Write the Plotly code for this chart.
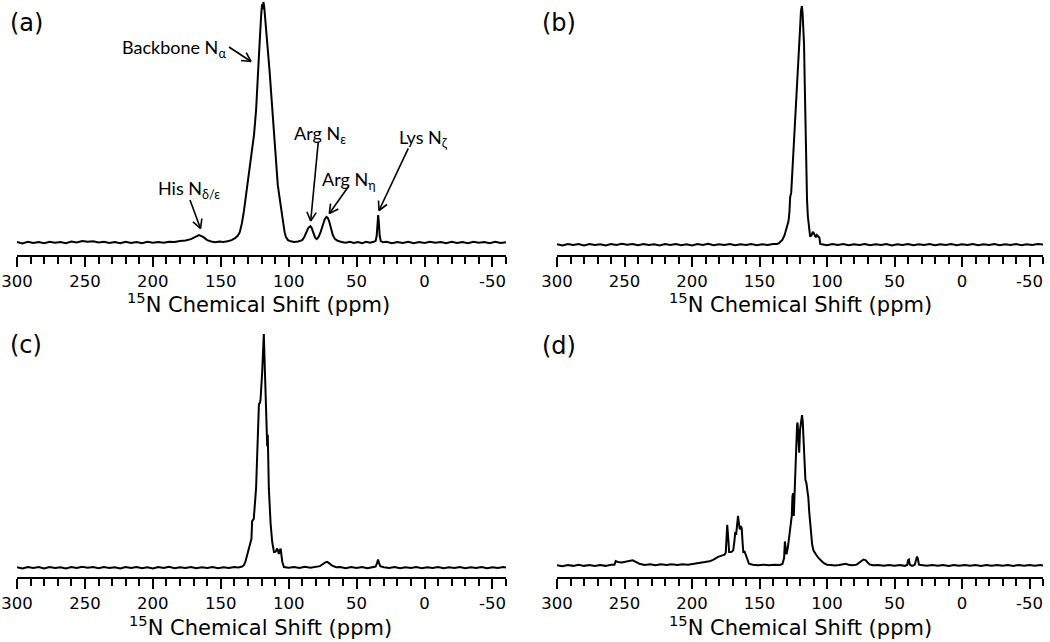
import math
import plotly.graph_objects as go

# ---------------- data (ppm, normalised intensity) ----------------
tick_vals = [300, 250, 200, 150, 100, 50, 0, -50]
tick_text = ["300", "250", "200", "150", "100", "50", "0", "-50"]
panel_labels = ["(a)", "(b)", "(c)", "(d)"]
axis_title = "<sup>15</sup>N Chemical Shift (ppm)"

spec_a = [
    (300, 0.004), (296, -0.002), (292, 0.005), (288, 0.000), (284, 0.004), (280, -0.001), (276, 0.005),
    (272, 0.001), (268, 0.004), (264, -0.001), (260, 0.006), (256, 0.002), (252, 0.008), (248, 0.005),
    (244, 0.007), (240, 0.002), (236, 0.005), (232, 0.000), (228, 0.004), (224, -0.001), (220, 0.005),
    (216, 0.000), (212, 0.004), (208, -0.001), (204, 0.005), (200, 0.001), (196, 0.004), (192, 0.001),
    (188, 0.005), (184, 0.004), (180, 0.008), (176, 0.010), (172, 0.016), (169, 0.026), (166, 0.033),
    (163, 0.025), (160, 0.012), (157, 0.006), (154, 0.003), (151, 0.006), (148, 0.004), (145, 0.007),
    (142, 0.012), (139.5, 0.020), (137.5, 0.030), (136, 0.045), (134.5, 0.080), (133, 0.130),
    (131.5, 0.190), (130, 0.250), (128.5, 0.310), (127, 0.370), (125.5, 0.450), (124, 0.550),
    (123, 0.640), (122.2, 0.730), (121.2, 0.850), (120.2, 0.950), (119.6, 0.990), (119.1, 0.970),
    (118.6, 1.000), (118, 0.980), (117, 0.920), (116, 0.850), (115, 0.780), (114, 0.710), (113, 0.630),
    (112, 0.550), (111, 0.480), (110.2, 0.410), (109.5, 0.330), (108.8, 0.270), (108, 0.240),
    (107, 0.200), (106, 0.155), (105, 0.110), (104, 0.070), (103, 0.045), (102, 0.025), (100.5, 0.012),
    (98.5, 0.007), (96, 0.004), (93, 0.006), (90, 0.012), (88.5, 0.025), (87, 0.045), (85.5, 0.063),
    (84, 0.070), (83, 0.062), (82, 0.045), (80.5, 0.022), (79.3, 0.016), (78, 0.025), (76.5, 0.045),
    (75, 0.075), (73.5, 0.098), (72.2, 0.108), (71.2, 0.104), (70.2, 0.090), (69, 0.060), (67.5, 0.033),
    (66, 0.017), (64, 0.009), (61, 0.004), (58, 0.001), (55, 0.005), (52, 0.000), (49, 0.004),
    (46, -0.001), (43, 0.005), (40, 0.001), (37.5, 0.005), (36, 0.008), (35.2, 0.030), (34.6, 0.090),
    (34.1, 0.116), (33.6, 0.085), (33, 0.030), (32.2, 0.008), (30.5, 0.003), (28, 0.005), (24, -0.001),
    (20, 0.004), (16, 0.000), (12, 0.005), (8, -0.001), (4, 0.004), (0, 0.000), (-4, 0.005), (-8, 0.001),
    (-12, 0.004), (-16, -0.001), (-20, 0.005), (-24, 0.000), (-28, 0.004), (-32, -0.001), (-36, 0.005),
    (-40, 0.001), (-44, 0.004), (-48, -0.001), (-52, 0.005), (-56, 0.000), (-60, 0.003),
]

spec_b = [
    (300, 0.003), (296, -0.002), (292, 0.004), (288, 0.000), (284, 0.004), (280, -0.002), (276, 0.004),
    (272, 0.000), (268, 0.003), (264, -0.002), (260, 0.004), (256, 0.000), (252, 0.005), (248, 0.001),
    (244, 0.004), (240, -0.001), (236, 0.004), (232, 0.000), (228, 0.003), (224, -0.002), (220, 0.004),
    (216, 0.000), (212, 0.004), (208, -0.001), (204, 0.003), (200, -0.002), (196, 0.004), (192, 0.000),
    (188, 0.005), (184, -0.001), (180, 0.003), (176, 0.000), (172, 0.004), (168, -0.001), (164, 0.003),
    (160, 0.000), (156, 0.004), (152, -0.001), (148, 0.003), (144, 0.000), (140, 0.004), (137, 0.004),
    (135.5, 0.008), (134.2, 0.014), (133, 0.022), (131.5, 0.040), (130.5, 0.060), (129.5, 0.080),
    (128.5, 0.100), (127.8, 0.140), (127.3, 0.200), (126.5, 0.220), (125.5, 0.320), (124.5, 0.430),
    (123.8, 0.520), (123, 0.550), (122.4, 0.630), (121.6, 0.740), (121, 0.800), (120.6, 0.810),
    (120, 0.900), (119.3, 0.980), (118.6, 1.000), (118.1, 0.970), (117.5, 0.920), (117, 0.840),
    (116.5, 0.680), (116, 0.500), (115.4, 0.330), (114.8, 0.190), (114.2, 0.120), (113.5, 0.070),
    (112.5, 0.035), (111.5, 0.040), (110.5, 0.055), (109.8, 0.050), (109, 0.038), (108.3, 0.032),
    (107.5, 0.042), (106.5, 0.036), (105.6, 0.030), (105, 0.004), (103, 0.003), (100, -0.001),
    (96, 0.004), (92, 0.000), (88, 0.004), (84, -0.001), (80, 0.003), (76, 0.000), (72, 0.004),
    (68, -0.001), (64, 0.003), (60, 0.000), (56, 0.004), (52, -0.002), (48, 0.003), (44, 0.000),
    (40, 0.004), (36, -0.001), (32, 0.003), (28, 0.000), (24, 0.004), (20, -0.001), (16, 0.003),
    (12, 0.000), (8, 0.004), (4, -0.001), (0, 0.003), (-4, 0.000), (-8, 0.004), (-12, -0.001),
    (-16, 0.003), (-20, 0.000), (-24, 0.004), (-28, -0.001), (-32, 0.003), (-36, 0.000), (-40, 0.004),
    (-44, -0.001), (-48, 0.003), (-52, 0.000), (-56, 0.004), (-60, 0.002),
]

spec_c = [
    (300, 0.003), (296, -0.002), (292, 0.004), (288, 0.000), (284, 0.004), (280, -0.002), (276, 0.004),
    (272, 0.000), (268, 0.003), (264, -0.002), (260, 0.004), (256, 0.000), (252, 0.005), (248, 0.001),
    (244, 0.004), (240, -0.001), (236, 0.004), (232, 0.000), (228, 0.003), (224, -0.002), (220, 0.004),
    (216, 0.000), (212, 0.004), (208, -0.001), (204, 0.003), (200, -0.002), (196, 0.004), (192, 0.000),
    (188, 0.005), (184, -0.001), (180, 0.003), (176, 0.000), (172, 0.004), (168, -0.001), (164, 0.003),
    (160, 0.000), (156, 0.004), (152, -0.001), (148, 0.003), (144, 0.000), (140, 0.004), (137, 0.002),
    (134.3, 0.006), (133, 0.012), (131.9, 0.026), (130.6, 0.054), (129.8, 0.083), (128.8, 0.100),
    (127.4, 0.125), (126.9, 0.200), (125.7, 0.210), (124, 0.340), (122.5, 0.550), (121.9, 0.700),
    (121.2, 0.705), (120.7, 0.720), (119.5, 0.836), (118.9, 0.950), (118.3, 1.000), (117.8, 0.900),
    (117, 0.700), (116.3, 0.600), (115.8, 0.520), (115.4, 0.570), (114.6, 0.340), (113.3, 0.190),
    (112.1, 0.110), (110.8, 0.068), (109.6, 0.070), (108.4, 0.083), (107.2, 0.060), (106.5, 0.075),
    (105.9, 0.083), (104.7, 0.026), (103.5, 0.004), (100, 0.001), (96, 0.004), (92, 0.000), (88, 0.005),
    (84, 0.001), (80, 0.005), (77, 0.008), (75, 0.016), (73, 0.024), (71.5, 0.026), (70, 0.020),
    (68, 0.010), (65, 0.003), (62, 0.004), (58, -0.001), (54, 0.004), (50, 0.000), (46, 0.004),
    (42, -0.001), (38, 0.003), (36, 0.006), (35, 0.020), (34.2, 0.036), (33.5, 0.022), (32.5, 0.008),
    (30, 0.003), (26, 0.000), (22, 0.004), (18, -0.001), (14, 0.003), (10, 0.000), (6, 0.004),
    (2, -0.001), (-2, 0.003), (-6, 0.000), (-10, 0.004), (-14, -0.001), (-18, 0.003), (-22, 0.000),
    (-26, 0.004), (-30, -0.001), (-34, 0.003), (-38, 0.000), (-42, 0.004), (-46, -0.001), (-50, 0.003),
    (-54, 0.000), (-58, 0.004), (-60, 0.002),
]

spec_d = [
    (300, 0.003), (296, -0.004), (292, 0.004), (288, -0.002), (284, 0.005), (280, -0.002), (276, 0.004),
    (272, -0.003), (268, 0.004), (264, -0.002), (260, 0.005), (257.5, 0.006), (256.5, 0.030),
    (255, 0.024), (252, 0.020), (249, 0.024), (246, 0.030), (244, 0.035), (242, 0.026), (239, 0.012),
    (235, 0.004), (231, 0.009), (227, 0.002), (223, 0.008), (219, 0.003), (215, 0.009), (211, 0.004),
    (207, 0.009), (203, 0.006), (199, 0.011), (195, 0.014), (191, 0.020), (187, 0.028), (184, 0.040),
    (181, 0.056), (178, 0.066), (176, 0.072), (175, 0.085), (174.4, 0.200), (173.9, 0.270),
    (173.3, 0.200), (172.5, 0.090), (171, 0.090), (169.5, 0.100), (168.6, 0.160), (168, 0.220),
    (167.2, 0.215), (166.5, 0.280), (165.9, 0.330), (165.3, 0.285), (164.6, 0.240), (163.9, 0.262),
    (163.2, 0.250), (162.5, 0.150), (162, 0.090), (161, 0.092), (160.2, 0.070), (159, 0.035),
    (157.8, 0.012), (155, 0.005), (151, 0.002), (147, 0.006), (143, 0.002), (139, 0.005), (135, 0.004),
    (133, 0.010), (131.8, 0.050), (131.2, 0.160), (130.6, 0.120), (130, 0.075), (129, 0.120),
    (128, 0.200), (127, 0.250), (126.1, 0.330), (125.6, 0.460), (125.1, 0.480), (124.6, 0.330),
    (124, 0.500), (123.4, 0.700), (122.8, 0.820), (122.2, 0.930), (121.8, 0.950), (121.2, 0.850),
    (120.6, 0.750), (120, 0.900), (119.2, 0.970), (118.5, 1.000), (118, 0.960), (117.3, 0.840),
    (116.6, 0.680), (116, 0.570), (115.3, 0.550), (114.5, 0.500), (113.8, 0.450), (113.2, 0.360),
    (112.5, 0.300), (111.6, 0.180), (111, 0.140), (110, 0.100), (109, 0.080), (108, 0.072),
    (106.5, 0.052), (105, 0.036), (103.5, 0.025), (102, 0.015), (100, 0.006), (97, 0.003), (94, 0.000),
    (91, 0.004), (88, 0.010), (86, 0.012), (84, 0.005), (81, 0.002), (78, 0.006), (76, 0.018),
    (74.5, 0.033), (73, 0.040), (71.5, 0.036), (70, 0.022), (68.5, 0.008), (66, 0.002), (62, 0.004),
    (58, -0.002), (54, 0.004), (50, -0.002), (46, 0.003), (42.5, -0.002), (40.6, 0.004), (40, 0.035),
    (39.3, 0.040), (38.7, 0.006), (37, -0.002), (35, 0.005), (34, 0.040), (33.3, 0.060), (32.7, 0.045),
    (31.9, 0.006), (29, 0.002), (26, -0.002), (22, 0.004), (18, -0.002), (14, 0.003), (10, -0.003),
    (6, 0.004), (2, -0.002), (-2, 0.004), (-6, -0.002), (-10, 0.003), (-14, -0.003), (-18, 0.004),
    (-22, -0.002), (-26, 0.004), (-30, -0.002), (-34, 0.003), (-38, -0.003), (-42, 0.004), (-46, -0.002),
    (-50, 0.004), (-54, -0.002), (-58, 0.004), (-60, 0.001),
]

peak_labels = ["Backbone N<sub>α</sub>", "His N<sub>δ/ε</sub>", "Arg N<sub>ε</sub>",
               "Arg N<sub>η</sub>", "Lys N<sub>ζ</sub>"]

# ---------------- layout geometry (pixels of the 1050x642 canvas) ----------------
W, H = 1050, 642
x_dom_left = [17 / W, 506 / W]
x_dom_right = [557 / W, 1043 / W]
y_dom_top = [(H - 255) / H, 1.0]
y_dom_bot = [(H - 577) / H, (H - 322) / H]
y_ranges = [[-0.0498, 1.0083], [-0.042, 1.025], [-0.0385, 1.051], [-0.076, 1.618]]

fig = go.Figure()
specs = [spec_a, spec_b, spec_c, spec_d]
for i, spec in enumerate(specs):
    xs = [p[0] for p in spec]
    ys = [p[1] for p in spec]
    sfx = "" if i == 0 else str(i + 1)
    fig.add_trace(go.Scatter(x=xs, y=ys, mode="lines", line=dict(color="black", width=2),
                             xaxis="x" + sfx, yaxis="y" + sfx, showlegend=False,
                             hoverinfo="skip"))

SANS = "DejaVu Sans, Liberation Sans, Arial, sans-serif"
tick_font = dict(family=SANS, size=16.5, color="black")


def xaxis_cfg(domain, anchor):
    return dict(domain=domain, anchor=anchor, range=[300, -60], showline=True, linecolor="black",
                linewidth=2, ticks="outside", ticklen=10, tickwidth=2, tickcolor="black",
                tickmode="array", tickvals=tick_vals, ticktext=tick_text, tickfont=tick_font,
                showgrid=False, zeroline=False, automargin=False,
                minor=dict(ticks="outside", tickmode="linear", tick0=0, dtick=10, ticklen=7,
                           tickwidth=2, tickcolor="black", showgrid=False))


def yaxis_cfg(domain, anchor, rng):
    return dict(domain=domain, anchor=anchor, range=rng, visible=False, showgrid=False,
                zeroline=False, automargin=False)


fig.update_layout(
    template="none",
    width=W, height=H, margin=dict(l=0, r=0, t=0, b=0, pad=0, autoexpand=False),
    paper_bgcolor="white", plot_bgcolor="white",
    xaxis=xaxis_cfg(x_dom_left, "y"), yaxis=yaxis_cfg(y_dom_top, "x", y_ranges[0]),
    xaxis2=xaxis_cfg(x_dom_right, "y2"), yaxis2=yaxis_cfg(y_dom_top, "x2", y_ranges[1]),
    xaxis3=xaxis_cfg(x_dom_left, "y3"), yaxis3=yaxis_cfg(y_dom_bot, "x3", y_ranges[2]),
    xaxis4=xaxis_cfg(x_dom_right, "y4"), yaxis4=yaxis_cfg(y_dom_bot, "x4", y_ranges[3]),
)

annotations = []
shapes = []


def P(x, y):
    return x / W, 1 - y / H


# panel letters
letter_pos = [(26, 23), (559, 23), (26, 345), (559, 346)]
for lab, (px, py) in zip(panel_labels, letter_pos):
    x, y = P(px, py)
    annotations.append(dict(text=lab, x=x, y=y, xref="paper", yref="paper",
                            showarrow=False, xanchor="center", yanchor="middle",
                            font=dict(family=SANS, size=24, color="black")))

# axis titles
title_pos = [(258, 303), (800, 303), (260, 626), (800, 626)]
for px, py in title_pos:
    x, y = P(px, py)
    annotations.append(dict(text=axis_title, x=x, y=y, xref="paper", yref="paper",
                            showarrow=False, xanchor="center", yanchor="middle",
                            font=dict(family=SANS, size=21, color="black")))

# peak labels in panel (a)
label_pos = [(120, 49), (156, 190), (292, 134), (320, 181), (397, 138)]
lab_font = dict(family="Lato, Open Sans, sans-serif", size=18, color="black")
for txt, (px, py) in zip(peak_labels, label_pos):
    x, y = P(px, py)
    annotations.append(dict(text=txt, x=x, y=y, xref="paper", yref="paper",
                            showarrow=False, xanchor="left", yanchor="middle", font=lab_font))

# arrows (tail -> tip), drawn as lines with open V heads
arrows = [((229, 47), (251, 61.5)), ((190, 200), (200.5, 228.5)), ((318.3, 141.7), (310.7, 221)),
          ((348.3, 186.7), (329.3, 213.5)), ((408.3, 148.3), (379, 210.5))]
head_len, head_ang = 10, math.radians(28)
for (tx, ty), (hx, hy) in arrows:
    x0, y0 = P(tx, ty)
    x1, y1 = P(hx, hy)
    shapes.append(dict(type="line", xref="paper", yref="paper", x0=x0, y0=y0, x1=x1, y1=y1,
                       line=dict(color="black", width=1.6)))
    ang = math.atan2(ty - hy, tx - hx)
    for s in (-1, 1):
        ex = hx + head_len * math.cos(ang + s * head_ang)
        ey = hy + head_len * math.sin(ang + s * head_ang)
        a0, b0 = P(hx, hy)
        a1, b1 = P(ex, ey)
        shapes.append(dict(type="line", xref="paper", yref="paper", x0=a0, y0=b0, x1=a1, y1=b1,
                           line=dict(color="black", width=1.6)))

fig.update_layout(annotations=annotations, shapes=shapes)

fig.write_html("out.html", include_plotlyjs=True, config={"displayModeBar": False},
               post_script="document.body.style.margin='0';document.body.style.overflow='hidden';")
